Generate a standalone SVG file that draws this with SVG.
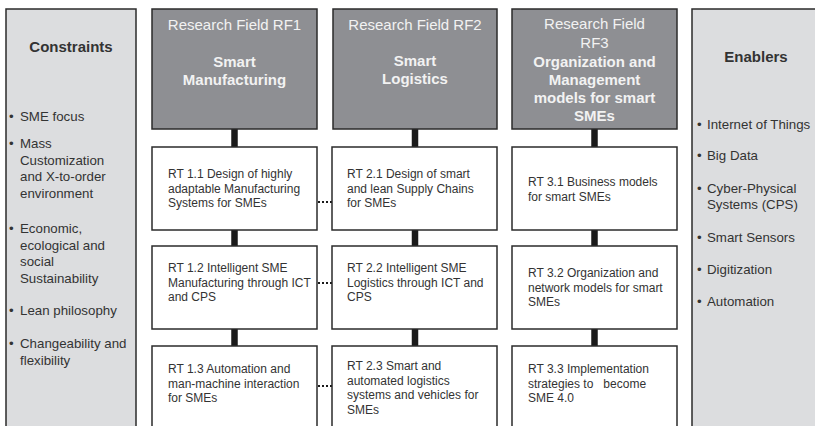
<svg xmlns="http://www.w3.org/2000/svg" width="815" height="426" viewBox="0 0 815 426">
<style>
  .side { fill: #dcdddf; stroke: #2b2b2b; stroke-width: 1.5; }
  .head { fill: #8e8f93; stroke: #2b2b2b; stroke-width: 1.5; }
  .rt { fill: #ffffff; stroke: #2b2b2b; stroke-width: 1.5; }
  .bar { stroke: #1a1a1a; stroke-width: 6.5; }
  .dots { stroke: #1a1a1a; stroke-width: 2; stroke-dasharray: 2 2; }
  text { font-family: "Liberation Sans", Arial, sans-serif; }
  .h1 { font-size: 15px; fill: #f2f2f2; text-anchor: middle; }
  .h2 { font-size: 15px; font-weight: bold; fill: #f2f2f2; text-anchor: middle; }
  .st { font-size: 15px; font-weight: bold; fill: #333333; text-anchor: middle; }
  .li { font-size: 13.3px; fill: #333333; }
  .rtt { font-size: 12px; fill: #333333; white-space: pre; }
</style>

<g id="connectors">
  <line class="bar" x1="234.5" y1="129" x2="234.5" y2="147"/>
  <line class="bar" x1="234.5" y1="230" x2="234.5" y2="246"/>
  <line class="bar" x1="234.5" y1="329" x2="234.5" y2="346"/>
  <line class="bar" x1="415" y1="129" x2="415" y2="147"/>
  <line class="bar" x1="415" y1="230" x2="415" y2="246"/>
  <line class="bar" x1="415" y1="329" x2="415" y2="346"/>
  <line class="bar" x1="594.5" y1="129" x2="594.5" y2="147"/>
  <line class="bar" x1="594.5" y1="230" x2="594.5" y2="246"/>
  <line class="bar" x1="594.5" y1="329" x2="594.5" y2="346"/>
  <line class="dots" x1="318" y1="202" x2="332" y2="202"/>
  <line class="dots" x1="318" y1="283" x2="332" y2="283"/>
  <line class="dots" x1="318" y1="386" x2="332" y2="386"/>
</g>

<g id="constraints">
  <rect class="side" x="6" y="9" width="130" height="430"/>
  <text class="st" x="71" y="52">Constraints</text>
  <text class="li" x="9" y="121">•</text><text class="li" x="20" y="121">SME focus</text>
  <text class="li" x="9" y="148">•</text><text class="li" x="20" y="148">Mass</text>
  <text class="li" x="20" y="164.5">Customization</text>
  <text class="li" x="20" y="181">and X-to-order</text>
  <text class="li" x="20" y="197.5">environment</text>
  <text class="li" x="9" y="233">•</text><text class="li" x="20" y="233">Economic,</text>
  <text class="li" x="20" y="249.5">ecological and</text>
  <text class="li" x="20" y="266">social</text>
  <text class="li" x="20" y="282.5">Sustainability</text>
  <text class="li" x="9" y="315">•</text><text class="li" x="20" y="315">Lean philosophy</text>
  <text class="li" x="9" y="348">•</text><text class="li" x="20" y="348">Changeability and</text>
  <text class="li" x="20" y="364.5">flexibility</text>
</g>

<g id="rf1">
  <rect class="head" x="152" y="9" width="165" height="120"/>
  <text class="h1" x="234.5" y="30">Research Field RF1</text>
  <text class="h2" x="234.5" y="67">Smart</text>
  <text class="h2" x="234.5" y="85">Manufacturing</text>
</g>
<g id="rf2">
  <rect class="head" x="333" y="9" width="164" height="120"/>
  <text class="h1" x="415" y="29.5">Research Field RF2</text>
  <text class="h2" x="415" y="65.5">Smart</text>
  <text class="h2" x="415" y="83.5">Logistics</text>
</g>
<g id="rf3">
  <rect class="head" x="512" y="9" width="165" height="120"/>
  <text class="h1" x="594.5" y="29">Research Field</text>
  <text class="h1" x="594.5" y="48">RF3</text>
  <text class="h2" x="594.5" y="67">Organization and</text>
  <text class="h2" x="594.5" y="85">Management</text>
  <text class="h2" x="594.5" y="103">models for smart</text>
  <text class="h2" x="594.5" y="121">SMEs</text>
</g>

<g id="rt11">
  <rect class="rt" x="152" y="147" width="165" height="83"/>
  <text class="rtt" x="168" y="178">RT 1.1 Design of highly</text>
  <text class="rtt" x="168" y="192.5">adaptable Manufacturing</text>
  <text class="rtt" x="168" y="207">Systems for SMEs</text>
</g>
<g id="rt12">
  <rect class="rt" x="152" y="246" width="165" height="83"/>
  <text class="rtt" x="168" y="272">RT 1.2 Intelligent SME</text>
  <text class="rtt" x="168" y="286.5">Manufacturing through ICT</text>
  <text class="rtt" x="168" y="301">and CPS</text>
</g>
<g id="rt13">
  <rect class="rt" x="152" y="346" width="165" height="84"/>
  <text class="rtt" x="168" y="373">RT 1.3 Automation and</text>
  <text class="rtt" x="168" y="387.5">man-machine interaction</text>
  <text class="rtt" x="168" y="402">for SMEs</text>
</g>

<g id="rt21">
  <rect class="rt" x="332" y="147" width="165" height="83"/>
  <text class="rtt" x="347" y="178">RT 2.1 Design of smart</text>
  <text class="rtt" x="347" y="192.5">and lean Supply Chains</text>
  <text class="rtt" x="347" y="207">for SMEs</text>
</g>
<g id="rt22">
  <rect class="rt" x="332" y="246" width="165" height="83"/>
  <text class="rtt" x="347" y="272">RT 2.2 Intelligent SME</text>
  <text class="rtt" x="347" y="286.5">Logistics through ICT and</text>
  <text class="rtt" x="347" y="301">CPS</text>
</g>
<g id="rt23">
  <rect class="rt" x="332" y="346" width="165" height="84"/>
  <text class="rtt" x="347" y="370">RT 2.3 Smart and</text>
  <text class="rtt" x="347" y="384.5">automated logistics</text>
  <text class="rtt" x="347" y="399">systems and vehicles for</text>
  <text class="rtt" x="347" y="413.5">SMEs</text>
</g>

<g id="rt31">
  <rect class="rt" x="512" y="147" width="165" height="83"/>
  <text class="rtt" x="528" y="186">RT 3.1 Business models</text>
  <text class="rtt" x="528" y="200.5">for smart SMEs</text>
</g>
<g id="rt32">
  <rect class="rt" x="512" y="246" width="165" height="83"/>
  <text class="rtt" x="528" y="277">RT 3.2 Organization and</text>
  <text class="rtt" x="528" y="291.5">network models for smart</text>
  <text class="rtt" x="528" y="306">SMEs</text>
</g>
<g id="rt33">
  <rect class="rt" x="512" y="346" width="165" height="84"/>
  <text class="rtt" x="528" y="373">RT 3.3 Implementation</text>
  <text class="rtt" x="528" y="388">strategies to   become</text>
  <text class="rtt" x="528" y="402">SME 4.0</text>
</g>

<g id="enablers">
  <rect class="side" x="692" y="9" width="130" height="430"/>
  <text class="st" x="756" y="62">Enablers</text>
  <text class="li" x="697" y="129">•</text><text class="li" x="707" y="129">Internet of Things</text>
  <text class="li" x="697" y="160">•</text><text class="li" x="707" y="160">Big Data</text>
  <text class="li" x="697" y="192.5">•</text><text class="li" x="707" y="192.5">Cyber-Physical</text>
  <text class="li" x="707" y="208.5">Systems (CPS)</text>
  <text class="li" x="697" y="241.5">•</text><text class="li" x="707" y="241.5">Smart Sensors</text>
  <text class="li" x="697" y="273.5">•</text><text class="li" x="707" y="273.5">Digitization</text>
  <text class="li" x="697" y="305.5">•</text><text class="li" x="707" y="305.5">Automation</text>
</g>
</svg>
